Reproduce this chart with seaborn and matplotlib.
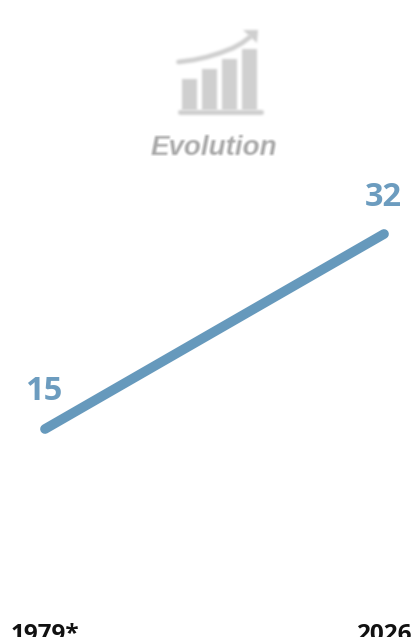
import numpy as np
import pandas as pd
import matplotlib
matplotlib.use("Agg")
import matplotlib.pyplot as plt
import seaborn as sns

# Chart data
years = ["1979*", "2026"]
values = [15, 32]

# Pictogram above the chart: rising bars with a trend arrow
icon_bars = [31, 41, 51, 61]
icon_base = [-0.5, 3.55]
trend_x = [-0.55, 0.2, 0.875, 1.525, 2.175, 2.625, 3.025]
trend_y = [48, 50, 53, 57, 62, 67, 73]
arrow_x = [2.675, 3.425, 3.375]
arrow_y = [80, 80, 67]

LINE = "#6699BC"
TEXT = "#6C9CBF"
ICON = "#D0D0D0"
W, H = 411, 637


def soft(radius, passes=2):
    """Return an agg filter that blurs an artist's coverage, keeping its colour."""
    def apply(img, dpi):
        pad = radius * 3
        alpha = img[..., 3]
        solid = img[alpha > 0.5][:, :3]
        colour = solid.mean(axis=0) if len(solid) else img[..., :3].max(axis=(0, 1))
        out = np.zeros((img.shape[0] + 2 * pad, img.shape[1] + 2 * pad, 4), dtype=img.dtype)
        cover = np.pad(alpha, pad)
        kernel = np.ones(2 * radius + 1) / (2 * radius + 1)
        for _ in range(passes):
            for axis in (0, 1):
                cover = np.apply_along_axis(np.convolve, axis, cover, kernel, mode="same")
        out[..., :3] = colour
        out[..., 3] = cover
        return out, -pad, -pad
    return apply


def axes_px(fig, left, top, right, bottom):
    return fig.add_axes([left / W, 1 - bottom / H, (right - left) / W, (bottom - top) / H])


sns.set_theme(style="white", rc={"savefig.facecolor": "white"})
fig = plt.figure(figsize=(W / 100, H / 100), dpi=100)

# Main line, spanning the two labelled years
ax = axes_px(fig, 45, 234, 384, 429)
df = pd.DataFrame({"pos": range(len(years)), "value": values})
sns.lineplot(data=df, x="pos", y="value", ax=ax, color=LINE, linewidth=7,
             solid_capstyle="round", clip_on=False)
ax.set_xlim(0, 1)
ax.set_ylim(values[0], values[1])
ax.set_xlabel("")
ax.set_ylabel("")
ax.set_yticks([])
ax.set_xticks(df["pos"], years)
ax.tick_params(axis="x", length=0, pad=140)
for lab in ax.get_xticklabels():
    lab.set_fontfamily("Open Sans")
    lab.set_fontweight("bold")
    lab.set_fontsize(17.5)
    lab.set_color("#111111")
    lab.set_verticalalignment("top")
sns.despine(ax=ax, left=True, bottom=True)
ax.patch.set_alpha(0)

# Value labels beside the line ends
ax.annotate(str(values[0]), (0, values[0]), xytext=(-1, 38), textcoords="offset pixels",
            ha="center", va="center", fontfamily="Open Sans", fontweight="bold",
            fontsize=23.5, color=TEXT, annotation_clip=False)
ax.annotate(str(values[1]), (1, values[1]), xytext=(-1, 37), textcoords="offset pixels",
            ha="center", va="center", fontfamily="Open Sans", fontweight="bold",
            fontsize=23.5, color=TEXT, annotation_clip=False)

# Pictogram
icon = axes_px(fig, 177, 28, 262, 115)
icon.set_xlim(-0.625, 3.625)
icon.set_ylim(-5, 82)
icon.axis("off")
bars = icon.bar(range(len(icon_bars)), icon_bars, width=0.78, color=ICON, linewidth=0)
for b in bars:
    b.set_agg_filter(soft(1))
base, = icon.plot(icon_base, [-1.5, -1.5], color=ICON, lw=3.6, solid_capstyle="round")
curve, = icon.plot(trend_x, trend_y, color=ICON, lw=3.4, solid_capstyle="round")
head = icon.fill(arrow_x, arrow_y, color=ICON, linewidth=0, clip_on=False)[0]
for artist in (base, curve, head):
    artist.set_agg_filter(soft(1))
    artist.set_clip_on(False)

title = fig.text(213.5 / W, 1 - 148 / H, "Evolution", ha="center", va="center",
                 fontfamily="Liberation Sans", fontstyle="italic", fontweight="bold",
                 fontsize=20, color="#ABABAB")
title.set_agg_filter(soft(1, passes=1))

fig.savefig("out.png", dpi=100)
